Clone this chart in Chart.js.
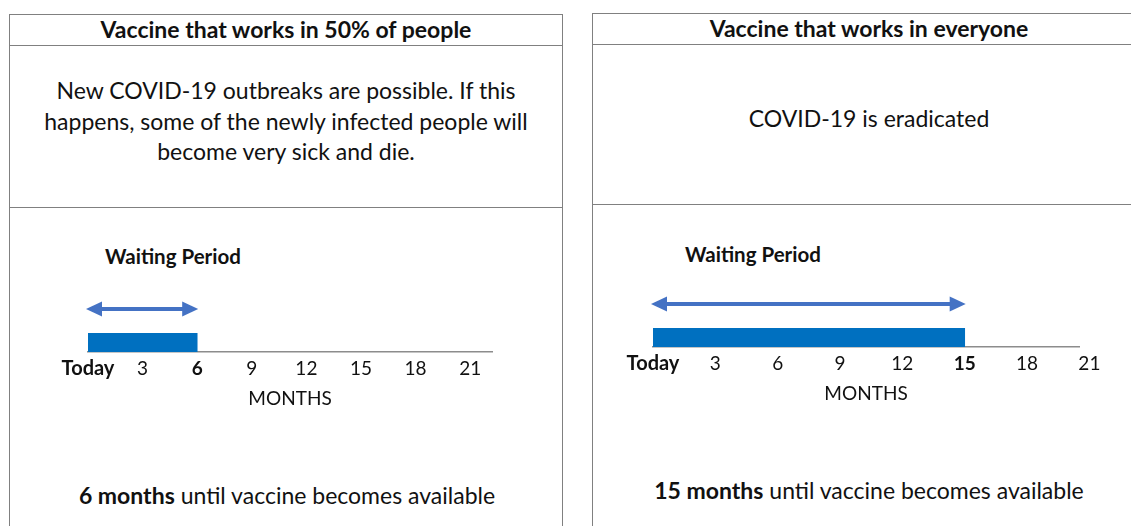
<!DOCTYPE html>
<html>
<head>
<meta charset="utf-8">
<script src="https://cdn.jsdelivr.net/npm/chart.js@4.4.1/dist/chart.umd.min.js"></script>
<style>
  body { margin: 0; background: #fff; font-family: Lato, "Open Sans", sans-serif; color: #111; overflow: hidden; }
  .panel { position: absolute; border: 1px solid #808080; border-bottom: none; height: 600px; box-sizing: border-box; }
  .head { height: 30px; border-bottom: 1px solid #808080; text-align: center; font-weight: bold; font-size: 23px; line-height: 29px; }
  .desc { border-bottom: 1px solid #808080; display: flex; align-items: center; justify-content: center; text-align: center; font-size: 23px; line-height: 30.5px; box-sizing: border-box; }
  .label { position: absolute; font-weight: bold; font-size: 20.5px; white-space: nowrap; }
  .foot { position: absolute; font-size: 23px; white-space: nowrap; transform: translateX(-50%); }
  canvas { position: absolute; }
</style>
</head>
<body>
<div class="panel" style="left:9px;top:14px;width:554px">
  <div class="head">Vaccine that works in 50% of people</div>
  <div class="desc" style="height:162px;padding-bottom:11px">New COVID-19 outbreaks are possible. If this<br>happens, some of the newly infected people will<br>become very sick and die.</div>
</div>
<div class="panel" style="left:592px;top:13px;width:554px">
  <div class="head">Vaccine that works in everyone</div>
  <div class="desc" style="height:160px;padding-bottom:12px">COVID-19 is eradicated</div>
</div>

<div class="label" style="left:105px;top:244px">Waiting Period</div>
<div class="label" style="left:685px;top:242px">Waiting Period</div>

<canvas id="chartLeft" width="480" height="140" style="left:40px;top:281px"></canvas>
<canvas id="chartRight" width="520" height="140" style="left:600px;top:276px"></canvas>

<div class="foot" style="left:287px;top:481px"><b>6 months</b> until vaccine becomes available</div>
<div class="foot" style="left:869px;top:476px"><b>15 months</b> until vaccine becomes available</div>

<script>
// timeline data
const categories = ['Waiting Period'];
const tickValues = [0, 3, 6, 9, 12, 15, 18, 21];
const tickLabels = ['Today', '3', '6', '9', '12', '15', '18', '21'];
const waitHalf = [6];   // vaccine that works in 50% of people
const waitAll = [15];   // vaccine that works in everyone

const fontFamily = 'Lato, "Open Sans", sans-serif';

// double headed arrow over the bar, same span as the waiting period
const arrowPlugin = {
    id: 'arrow',
    afterDatasetsDraw(chart) {
        const x = chart.scales.x;
        const months = chart.data.datasets[0].data[0];
        const x0 = x.getPixelForValue(0);
        const x1 = x.getPixelForValue(months);
        const y = chart.chartArea.top - 24;
        const ctx = chart.ctx;
        ctx.save();
        ctx.strokeStyle = '#4472C4';
        ctx.fillStyle = '#4472C4';
        ctx.lineWidth = 4;
        ctx.beginPath();
        ctx.moveTo(x0 + 10, y);
        ctx.lineTo(x1 - 10, y);
        ctx.stroke();
        ctx.beginPath();
        ctx.moveTo(x0 - 2, y);
        ctx.lineTo(x0 + 14, y - 7.5);
        ctx.lineTo(x0 + 14, y + 7.5);
        ctx.closePath();
        ctx.fill();
        ctx.beginPath();
        ctx.moveTo(x1 + 1, y);
        ctx.lineTo(x1 - 15, y - 7.5);
        ctx.lineTo(x1 - 15, y + 7.5);
        ctx.closePath();
        ctx.fill();
        ctx.restore();
    }
};

function makeTimeline(canvasId, waiting, maxMonths, padLeft, padRight) {
    const highlight = waiting[0];
    return new Chart(document.getElementById(canvasId), {
        type: 'bar',
        data: {
            labels: categories,
            datasets: [{
                data: waiting,
                backgroundColor: '#0070C0',
                borderWidth: 0,
                barPercentage: 1,
                categoryPercentage: 1
            }]
        },
        options: {
            indexAxis: 'y',
            responsive: false,
            animation: false,
            layout: { padding: { left: padLeft, right: padRight, top: 52, bottom: 0 } },
            scales: {
                x: {
                    type: 'linear',
                    min: 0,
                    max: maxMonths,
                    grid: { display: false, drawTicks: false },
                    border: { display: true, color: '#8c8c8c', width: 1.5 },
                    afterBuildTicks: axis => {
                        axis.ticks = tickValues.map(v => ({ value: v }));
                    },
                    afterFit: axis => { axis.height = 69; },
                    ticks: {
                        autoSkip: false,
                        maxRotation: 0,
                        padding: 5,
                        color: '#111',
                        font: ctx => {
                            const v = ctx.tick ? ctx.tick.value : -1;
                            return {
                                family: fontFamily,
                                size: v === 0 ? 20 : 19,
                                weight: (v === 0 || v === highlight) ? 'bold' : 'normal'
                            };
                        },
                        callback: value => tickLabels[tickValues.indexOf(value)]
                    },
                    title: {
                        display: true,
                        text: 'MONTHS',
                        color: '#111',
                        font: { family: fontFamily, size: 19 },
                        padding: { top: 0, bottom: 11 }
                    }
                },
                y: { display: false }
            },
            plugins: {
                legend: { display: false },
                tooltip: { enabled: false }
            }
        },
        plugins: [arrowPlugin]
    });
}

makeTimeline('chartLeft', waitHalf, 22.2, 48, 28);
makeTimeline('chartRight', waitAll, 20.5, 53, 41);
</script>
</body>
</html>
